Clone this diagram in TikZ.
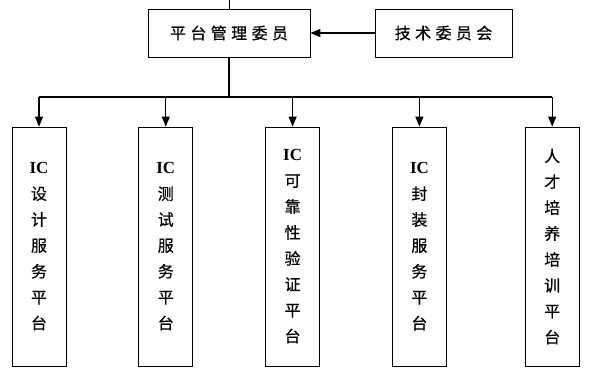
\documentclass[tikz,border=0pt]{standalone}
\usepackage{fontspec}
\setmainfont{Liberation Serif}
\newfontfamily\cjk[FakeBold=0.6]{Noto Sans CJK SC}
\newfontfamily\cjkwide[LetterSpace=28,FakeBold=0.6]{Noto Sans CJK SC}
\usetikzlibrary{positioning,arrows.meta}

\begin{document}
\begin{tikzpicture}[x=1bp,y=-1bp,>={Triangle[length=10bp,width=8bp]},node distance=72bp]
  \tikzstyle{head}=[draw,line width=0.8bp,minimum height=48bp,inner sep=0pt,
    font=\cjkwide\fontsize{16}{18}\selectfont]
  \tikzstyle{plat}=[draw,line width=0.8bp,minimum width=54bp,minimum height=239bp,
    inner sep=0pt,align=center,font=\cjk\fontsize{16}{26}\selectfont]
  \useasboundingbox (0,0) rectangle (600,379);
  \node[head,minimum width=162bp] (mgr) at (229,33) {平台管理委员};
  \node[head,minimum width=137bp] (tech) at (443.5,33) {技术委员会};
  \node[plat] (design) at (39,246.5) {\textrm{\textbf{\fontsize{17}{26}\selectfont IC}}\\设\\计\\服\\务\\平\\台};
  \node[plat,right=of design] (test) {\textrm{\textbf{\fontsize{17}{26}\selectfont IC}}\\测\\试\\服\\务\\平\\台};
  \node[plat,right=of test] (rel) {\textrm{\textbf{\fontsize{17}{26}\selectfont IC}}\\可\\靠\\性\\验\\证\\平\\台};
  \node[plat,right=of rel] (pack) {\textrm{\textbf{\fontsize{17}{26}\selectfont IC}}\\封\\装\\服\\务\\平\\台};
  \node[plat,right=78bp of pack] (train) {人\\才\\培\\养\\培\\训\\平\\台};
  \coordinate (tick) at (229,0);
  \coordinate (bus) at (229,97);
  \draw[line width=0.8bp] (tick)--(mgr.north);
  \draw[->,line width=1.2bp] (tech.west)--(mgr.east);
  \draw[line width=1.2bp] (mgr.south)--(bus);
  \draw[line width=1.2bp] (bus -| design)--(bus -| train);
  \draw[->,line width=1.2bp] (bus -| design)--(design.north);
  \draw[->,line width=1.2bp] (bus -| test)--(test.north);
  \draw[->,line width=1.2bp] (bus -| rel)--(rel.north);
  \draw[->,line width=1.2bp] (bus -| pack)--(pack.north);
  \draw[->,line width=1.2bp] (bus -| train)--(train.north);
\end{tikzpicture}
\end{document}
